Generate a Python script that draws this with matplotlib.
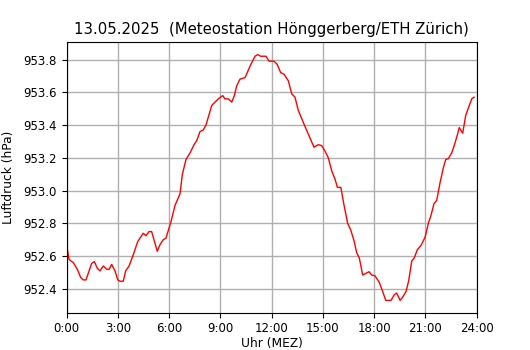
import matplotlib
matplotlib.use("Agg")
import matplotlib.pyplot as plt

# ── Data ──────────────────────────────────────────────────────────────────
hours = [
    0.00, 0.15, 0.40, 0.63, 0.83, 0.98, 1.14, 1.47, 1.63, 1.80, 1.96, 2.15,
    2.35, 2.50, 2.64, 2.84, 3.00, 3.13, 3.32, 3.46, 3.66, 3.91, 4.17, 4.49,
    4.65, 4.83, 4.98, 5.31, 5.47, 5.66, 5.82, 6.11, 6.35, 6.64, 6.78, 6.99,
    7.23, 7.46, 7.62, 7.81, 8.00, 8.16, 8.50, 8.69, 8.88, 9.14, 9.27, 9.47,
    9.67, 9.82, 9.96, 10.15, 10.45, 10.74, 11.03, 11.19, 11.36, 11.67, 11.85,
    12.14, 12.33, 12.53, 12.73, 12.98, 13.18, 13.37, 13.56, 13.76, 13.96,
    14.25, 14.48, 14.73, 14.93, 15.13, 15.32, 15.52, 15.71, 15.85, 16.05,
    16.24, 16.45, 16.63, 16.82, 16.98, 17.13, 17.33, 17.52, 17.70, 17.86,
    18.05, 18.30, 18.48, 18.68, 18.99, 19.18, 19.32, 19.52, 19.67, 19.87,
    20.02, 20.20, 20.35, 20.53, 20.74, 20.98, 21.17, 21.33, 21.50, 21.66,
    21.86, 22.05, 22.19, 22.34, 22.54, 22.73, 22.87, 22.98, 23.18, 23.36,
    23.57, 23.71, 23.85,
]
pressure = [
    952.67, 952.58, 952.56, 952.52, 952.47, 952.455, 952.455, 952.556, 952.567,
    952.526, 952.51, 952.54, 952.52, 952.52, 952.55, 952.51, 952.455, 952.447,
    952.447, 952.51, 952.54, 952.61, 952.69, 952.74, 952.725, 952.75, 952.75,
    952.63, 952.67, 952.70, 952.71, 952.81, 952.91, 952.98, 953.10, 953.19,
    953.23, 953.28, 953.305, 953.36, 953.37, 953.40, 953.52, 953.54, 953.56,
    953.58, 953.56, 953.56, 953.54, 953.58, 953.64, 953.68, 953.69, 953.76,
    953.82, 953.83, 953.82, 953.82, 953.79, 953.79, 953.77, 953.72, 953.71,
    953.67, 953.59, 953.57, 953.49, 953.44, 953.39, 953.32, 953.265, 953.28,
    953.275, 953.24, 953.20, 953.12, 953.07, 953.02, 953.02, 952.91, 952.80,
    952.76, 952.695, 952.62, 952.59, 952.485, 952.495, 952.505, 952.485,
    952.48, 952.44, 952.39, 952.33, 952.33, 952.365, 952.375, 952.33, 952.35,
    952.385, 952.45, 952.57, 952.59, 952.64, 952.665, 952.715, 952.80, 952.85,
    952.92, 952.94, 953.05, 953.14, 953.19, 953.195, 953.23, 953.29, 953.34,
    953.385, 953.35, 953.46, 953.52, 953.56, 953.57,
]
tick_hours = [0, 3, 6, 9, 12, 15, 18, 21, 24]
tick_labels = [f"{h}:00" for h in tick_hours]
y_ticks = [952.4, 952.6, 952.8, 953.0, 953.2, 953.4, 953.6, 953.8]

# ── Figure ─────────────────────────────────────────────────────────────────
fig = plt.figure(figsize=(5.3, 3.5), dpi=100)
ax = fig.add_axes([0.1255, 0.1066, 0.7739, 0.7725])

ax.plot(hours, pressure, color="red", linewidth=1.0)

ax.set_xlim(0, 24)
ax.set_xticks(tick_hours)
ax.set_xticklabels(tick_labels)
ax.set_yticks(y_ticks)
ax.yaxis.set_major_formatter(plt.FormatStrFormatter("%.1f"))
ax.tick_params(labelsize=8.5)
ax.grid(True, color="#b0b0b0", linewidth=1.0)
ax.set_axisbelow(True)

ax.set_xlabel("Uhr (MEZ)", fontsize=8.8, labelpad=1.5)
ax.set_ylabel("Luftdruck (hPa)", fontsize=8.8, labelpad=6)
ax.set_title("13.05.2025  (Meteostation Hönggerberg/ETH Zürich)", fontsize=10.7)

fig.savefig("out.png", dpi=100)
plt.close(fig)
